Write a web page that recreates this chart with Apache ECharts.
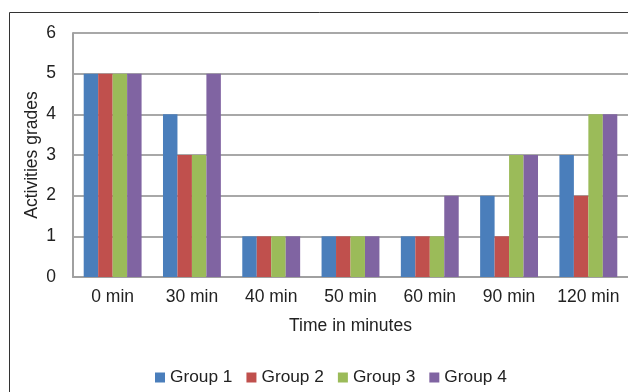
<!DOCTYPE html>
<html>
<head>
<meta charset="utf-8">
<script src="https://cdn.jsdelivr.net/npm/echarts@6/dist/echarts.min.js"></script>
<style>
  html, body { margin: 0; padding: 0; background: #fff; }
  #chart { width: 628px; height: 392px; }
</style>
</head>
<body>
<div id="chart"></div>
<script>
// Activity grades per group over time
const categories = ['0 min', '30 min', '40 min', '50 min', '60 min', '90 min', '120 min'];
const group1 = [5, 4, 1, 1, 1, 2, 3];
const group2 = [5, 3, 1, 1, 1, 1, 2];
const group3 = [5, 3, 1, 1, 1, 3, 4];
const group4 = [5, 5, 1, 1, 2, 3, 4];
const seriesNames = ['Group 1', 'Group 2', 'Group 3', 'Group 4'];
const seriesColors = ['#4a7ebb', '#c0504d', '#9bbb59', '#8064a2'];

const font = 'Liberation Sans, Arial, sans-serif';
const fs = 17.5;
const chart = echarts.init(document.getElementById('chart'));
const values = [group1, group2, group3, group4];

chart.setOption({
  animation: false,
  backgroundColor: '#fff',
  graphic: [{
    type: 'rect',
    shape: { x: 9.5, y: 12.5, width: 700, height: 500 },
    style: { fill: 'none', stroke: '#333', lineWidth: 1 },
    z: -1
  }],
  grid: { left: 73, top: 33, width: 557, height: 244 },
  legend: {
    top: 364,
    left: 150,
    itemWidth: 10,
    itemHeight: 10,
    itemGap: 14,
    icon: 'rect',
    textStyle: { fontFamily: font, fontSize: 17.3, color: '#222' },
    data: seriesNames
  },
  xAxis: {
    type: 'category',
    data: categories,
    name: 'Time in minutes',
    nameLocation: 'middle',
    nameGap: 40,
    nameMoveOverlap: false,
    nameTextStyle: { fontFamily: font, fontSize: fs, color: '#222' },
    axisLine: { lineStyle: { color: '#a0a0a0', width: 2 } },
    axisTick: { show: false },
    axisLabel: { fontFamily: font, fontSize: fs, color: '#222', margin: 11, interval: 0, hideOverlap: false }
  },
  yAxis: {
    type: 'value',
    min: 0,
    max: 6,
    interval: 1,
    name: 'Activities grades',
    nameLocation: 'middle',
    nameGap: 32,
    nameMoveOverlap: false,
    nameTextStyle: { fontFamily: font, fontSize: fs, color: '#222' },
    axisLine: { show: true, lineStyle: { color: '#a0a0a0', width: 2 } },
    axisTick: { show: false },
    axisLabel: { fontFamily: font, fontSize: fs, color: '#222', margin: 17 },
    splitLine: { lineStyle: { color: '#a8a8a8', width: 2 } }
  },
  series: values.map((v, i) => ({
    name: seriesNames[i],
    type: 'bar',
    data: v,
    barGap: '0%',
    barCategoryGap: '27%',
    itemStyle: { color: seriesColors[i] }
  }))
});
</script>
</body>
</html>
